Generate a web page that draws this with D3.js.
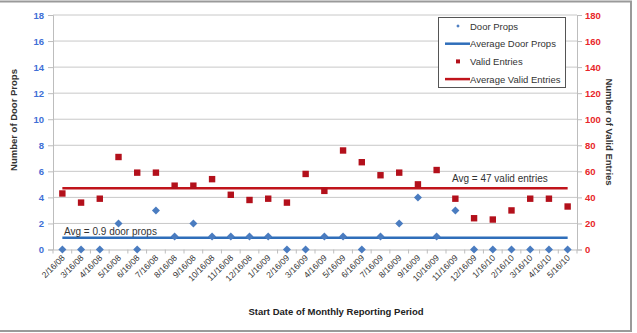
<!DOCTYPE html>
<html><head><meta charset="utf-8">
<script src="https://cdn.jsdelivr.net/npm/d3@7"></script>
<style>body{margin:0;background:#fff}svg{display:block;font-family:"Liberation Sans",Arial,sans-serif}</style>
</head><body><svg id="c" width="637" height="333"></svg>
<script>
const categories=["2/16/08","3/16/08","4/16/08","5/16/08","6/16/08","7/16/08","8/16/08","9/16/08","10/16/08","11/16/08","12/16/08","1/16/09","2/16/09","3/16/09","4/16/09","5/16/09","6/16/09","7/16/09","8/16/09","9/16/09","10/16/09","11/16/09","12/16/09","1/16/10","2/16/10","3/16/10","4/16/10","5/16/10"];
const doorProps=[0,0,0,2,0,3,1,2,1,1,1,1,0,0,1,1,0,1,2,4,1,3,0,0,0,0,0,0];
const validEntries=[43,36,39,71,59,59,49,49,54,42,38,39,36,58,45,76,67,57,59,50,61,39,24,23,30,39,39,33];
const avgDoorProps=0.9;
const avgValidEntries=47;
const leftTicks=[0,2,4,6,8,10,12,14,16,18];
const rightTicks=[0,20,40,60,80,100,120,140,160,180];

const svg=d3.select("#c");
const L=53,R=577,T=15,B=249.5;
// frame
svg.append("path").attr("d","M0,1.5H631V331H0").attr("fill","none").attr("stroke","#9a9a9a").attr("stroke-width",2);

const x=d3.scaleBand().domain(categories).range([L,R]);
const yL=d3.scaleLinear().domain([0,18]).range([B,T]);
const yR=d3.scaleLinear().domain([0,180]).range([B,T]);

// gridlines
svg.append("g").selectAll("line").data(leftTicks.slice(1)).join("line")
 .attr("x1",L).attr("x2",R).attr("y1",d=>yL(d)).attr("y2",d=>yL(d))
 .attr("stroke","#c8c8c8").attr("stroke-width",1);

// left axis
const gl=svg.append("g").attr("transform",`translate(${L},0)`)
 .call(d3.axisLeft(yL).tickValues(leftTicks).tickSize(5).tickPadding(4));
gl.select(".domain").attr("stroke","#bdbdbd");
gl.selectAll(".tick line").attr("stroke","#bdbdbd");
gl.selectAll("text").attr("fill","#3f6fd6").attr("font-weight","bold").attr("font-size",9.5).attr("font-family","Liberation Sans, Arial");
// right axis
const gr=svg.append("g").attr("transform",`translate(${R},0)`)
 .call(d3.axisRight(yR).tickValues(rightTicks).tickSize(5).tickPadding(3));
gr.select(".domain").attr("stroke","#bdbdbd");
gr.selectAll(".tick line").attr("stroke","#bdbdbd");
gr.selectAll("text").attr("fill","#e8262a").attr("font-weight","bold").attr("font-size",9.5).attr("font-family","Liberation Sans, Arial");
// bottom axis
const gb=svg.append("g").attr("transform",`translate(0,${B})`)
 .call(d3.axisBottom(x).tickSize(0).tickFormat(""));
gb.select(".domain").attr("stroke","#bdbdbd");
svg.append("g").selectAll("line").data(categories.concat(["_end"])).join("line")
 .attr("x1",(d,i)=>L+i*x.step()).attr("x2",(d,i)=>L+i*x.step())
 .attr("y1",B).attr("y2",B+4).attr("stroke","#bdbdbd");
svg.append("g").selectAll("text").data(categories).join("text")
 .attr("transform",d=>`translate(${x(d)+x.bandwidth()/2+3},${B+9}) rotate(-45)`)
 .attr("text-anchor","end").attr("font-size",8.5).attr("fill","#333").text(d=>d);

// average lines
const x0=x(categories[0])+x.bandwidth()/2, x1=x(categories[categories.length-1])+x.bandwidth()/2;
svg.append("line").attr("x1",x0).attr("x2",x1).attr("y1",yR(avgValidEntries)).attr("y2",yR(avgValidEntries)).attr("stroke","#c0141b").attr("stroke-width",2.5);
svg.append("line").attr("x1",x0).attr("x2",x1).attr("y1",yL(avgDoorProps)).attr("y2",yL(avgDoorProps)).attr("stroke","#2f6eba").attr("stroke-width",2.5);

// valid entries squares
svg.append("g").selectAll("rect").data(validEntries).join("rect")
 .attr("x",(d,i)=>x(categories[i])+x.bandwidth()/2-3.2).attr("y",d=>yR(d)-3.2)
 .attr("width",6.4).attr("height",6.4).attr("fill","#b3101b");
// door props diamonds (square rotated 45deg)
const dsym=d3.symbol().type(d3.symbolSquare).size(32);
svg.append("g").selectAll("path").data(doorProps).join("path")
 .attr("d",dsym).attr("transform",(d,i)=>`translate(${x(categories[i])+x.bandwidth()/2},${yL(d)}) rotate(45)`)
 .attr("fill","#4a7cc0");

// annotations
svg.append("text").attr("x",64).attr("y",235).attr("font-size",10).attr("fill","#333").text("Avg = 0.9 door props");
svg.append("text").attr("x",452).attr("y",182).attr("font-size",10).attr("fill","#333").text("Avg = 47 valid entries");

// axis titles
svg.append("text").attr("transform","translate(17,120) rotate(-90)").attr("text-anchor","middle").attr("font-size",9.5).attr("font-weight","bold").attr("fill","#333").text("Number of Door Props");
svg.append("text").attr("transform","translate(606,132) rotate(90)").attr("text-anchor","middle").attr("font-size",9.5).attr("font-weight","bold").attr("fill","#333").text("Number of Valid Entries");
svg.append("text").attr("x",336).attr("y",315).attr("text-anchor","middle").attr("font-size",9.5).attr("font-weight","bold").attr("fill","#222").text("Start Date of Monthly Reporting Period");

// legend
const lg=svg.append("g");
lg.append("rect").attr("x",438.5).attr("y",17.5).attr("width",127).attr("height",70).attr("fill","#fff").attr("stroke","#555").attr("stroke-width",1);
const items=[{t:"Door Props",k:"d"},{t:"Average Door Props",k:"bl"},{t:"Valid Entries",k:"s"},{t:"Average Valid Entries",k:"rl"}];
items.forEach((it,i)=>{
 const cy=26+i*17.7;
 if(it.k==="d") lg.append("path").attr("d",d3.symbol().type(d3.symbolSquare).size(6)).attr("transform",`translate(458,${cy}) rotate(45)`).attr("fill","#4a7cc0");
 if(it.k==="s") lg.append("rect").attr("x",456).attr("y",cy-2).attr("width",4).attr("height",4).attr("fill","#b3101b");
 if(it.k==="bl") lg.append("line").attr("x1",445).attr("x2",470).attr("y1",cy).attr("y2",cy).attr("stroke","#2f6eba").attr("stroke-width",2.5);
 if(it.k==="rl") lg.append("line").attr("x1",445).attr("x2",470).attr("y1",cy).attr("y2",cy).attr("stroke","#c0141b").attr("stroke-width",2.5);
 lg.append("text").attr("x",470).attr("y",cy+3.5).attr("font-size",9.5).attr("fill","#333").text(it.t);
});
</script></body></html>
